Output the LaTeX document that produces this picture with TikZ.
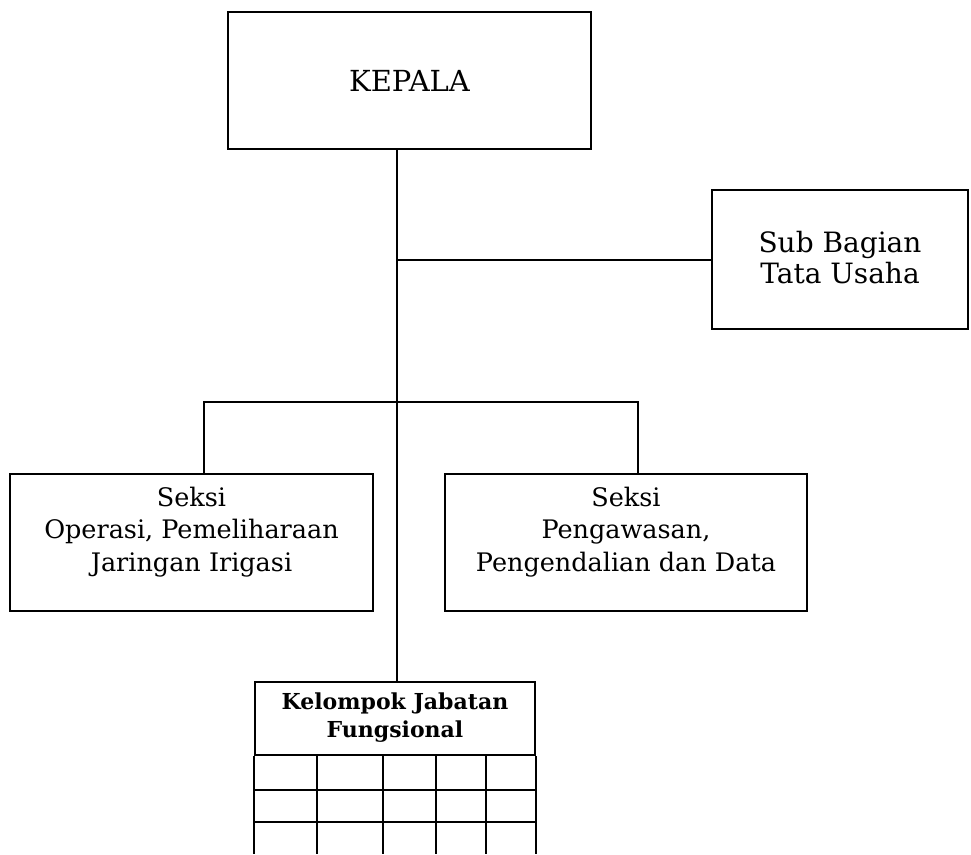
\documentclass[tikz,border=0pt]{standalone}
\usepackage{fontspec}
\setmainfont{DejaVu Serif}
\begin{document}
\begin{tikzpicture}[x=1pt,y=-1pt,
    box/.style={draw=black,line width=2.4pt,rectangle,inner sep=0pt,align=center},
    lbl/.style={align=center,inner sep=0pt},
    wire/.style={draw=black,line width=2pt},
    gridline/.style={draw=black,line width=2.4pt}]
  \useasboundingbox (0,0) rectangle (971,854);

  % top unit
  \node[box,minimum width=363pt,minimum height=137pt,
        font=\fontsize{29}{32}\selectfont] (kepala) at (409.5,80.5) {KEPALA};

  % staff unit on the right
  \node[box,minimum width=256pt,minimum height=139pt] (sub) at (840,259.5) {};
  \node[lbl,font=\fontsize{28}{31}\selectfont] (subtxt) at (840,258) {Sub Bagian\\Tata Usaha};

  % sections
  \node[box,minimum width=363pt,minimum height=137pt] (seksiA) at (191.5,542.5) {};
  \node[lbl,font=\fontsize{25.5}{32.5}\selectfont] (seksiAtxt) at (191.5,532)
    {Seksi\\Operasi, Pemeliharaan\\Jaringan Irigasi};
  \node[box,minimum width=362pt,minimum height=137pt] (seksiB) at (626,542.5) {};
  \node[lbl,font=\fontsize{25.5}{32.5}\selectfont] (seksiBtxt) at (626,532)
    {Seksi\\Pengawasan,\\Pengendalian dan Data};

  % functional group header
  \node[box,minimum width=280pt,minimum height=73pt] (kjf) at (395,718.5) {};
  \node[lbl,font=\fontsize{22}{28}\selectfont\bfseries] (kjftxt) at (395,718)
    {Kelompok Jabatan\\Fungsional};

  % spine and branches
  \coordinate (spine) at (397,0);
  \coordinate (bl) at (204,402);
  \coordinate (brr) at (638,402);
  \draw[wire] (kepala.south -| spine) -- (kjf.north -| spine);
  \draw[wire] (sub.west) -- (sub.west -| spine);
  \draw[wire] (seksiA.north -| bl) -- (bl) -- (brr) -- (seksiB.north -| brr);

  % open grid below the header
  \coordinate (gbot) at (0,854);
  \draw[gridline] (kjf.south west) -- (kjf.south west |- gbot);
  \draw[gridline] (kjf.south east) -- (kjf.south east |- gbot);
  \foreach \gx in {317,383,436,486}
    \draw[gridline] (\gx,755) -- (\gx,854);
  \foreach \gy in {790,822}
    \draw[gridline] (kjf.west |- 0,\gy) -- (kjf.east |- 0,\gy);
\end{tikzpicture}
\end{document}
